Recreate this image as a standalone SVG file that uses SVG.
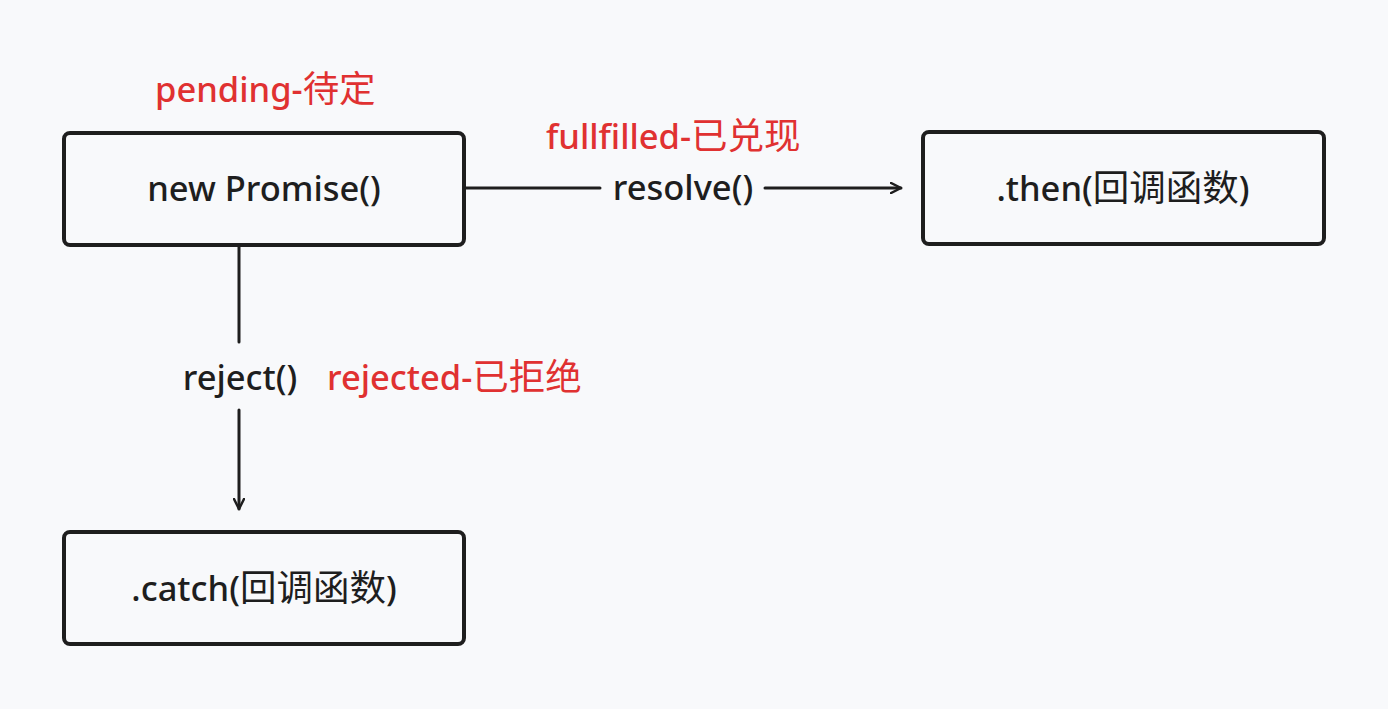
<svg xmlns="http://www.w3.org/2000/svg" width="1388" height="709" viewBox="0 0 1388 709">
<defs>
<style>
.box{fill:#f8f9fb;stroke:#1e1e1e;stroke-width:4}
.t{font-family:"Noto Sans","Noto Sans CJK SC",sans-serif;font-size:34.5px;font-weight:500;fill:#1e1e1e;text-anchor:middle}
.r{font-family:"Noto Sans","Noto Sans CJK SC",sans-serif;font-size:34.5px;font-weight:500;fill:#e03131}
.c{font-size:36.5px;font-weight:400}
.ln{stroke:#1e1e1e;stroke-width:3;fill:none;stroke-linecap:round}
</style>
<marker id="ah" viewBox="0 0 12 12" refX="11" refY="6" markerWidth="12" markerHeight="12" markerUnits="userSpaceOnUse" orient="auto">
<path d="M1,1 L11,6 L1,11" fill="none" stroke="#1e1e1e" stroke-width="2.5" stroke-linecap="round" stroke-linejoin="round"/>
</marker>
</defs>
<rect width="1388" height="709" fill="#f8f9fb"/>
<g id="connectors">
<line class="ln" x1="466" y1="188" x2="600" y2="188"/>
<line class="ln" x1="765" y1="188" x2="901" y2="188" marker-end="url(#ah)"/>
<text class="t" x="683" y="200">resolve()</text>
<line class="ln" x1="239" y1="246" x2="239" y2="342"/>
<line class="ln" x1="239" y1="410" x2="239" y2="509" marker-end="url(#ah)"/>
<text class="t" x="240" y="390">reject()</text>
</g>
<g id="node-promise">
<rect class="box" x="64" y="133" width="400" height="112" rx="6"/>
<text class="t" x="264" y="201">new Promise()</text>
</g>
<g id="node-then">
<rect class="box" x="923" y="132" width="401" height="112" rx="6"/>
<text class="t" x="1123" y="201">.then(<tspan class="c">回调函数</tspan>)</text>
</g>
<g id="node-catch">
<rect class="box" x="64" y="532" width="400" height="112" rx="6"/>
<text class="t" x="264" y="601">.catch(<tspan class="c">回调函数</tspan>)</text>
</g>
<g id="labels">
<text class="r" x="155" y="102">pending-<tspan class="c">待定</tspan></text>
<text class="r" x="546" y="149">fullfilled-<tspan class="c">已兑现</tspan></text>
<text class="r" x="327" y="390">rejected-<tspan class="c">已拒绝</tspan></text>
</g>
</svg>
